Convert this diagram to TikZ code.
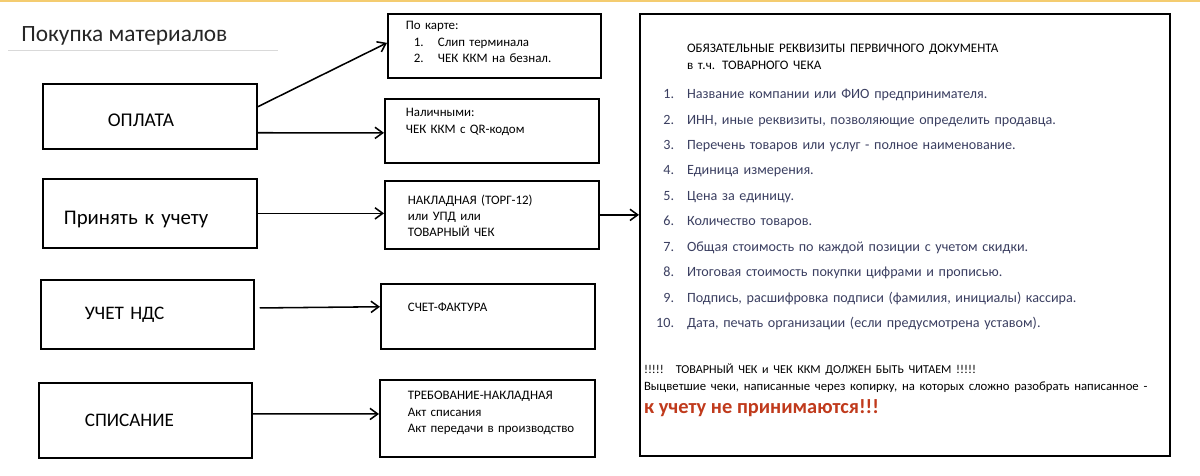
\documentclass[tikz,border=0pt]{standalone}
\usepackage{fontspec}
\setmainfont{Carlito}
\usetikzlibrary{arrows.meta,positioning}
\definecolor{listblue}{RGB}{58,62,96}
\definecolor{warnred}{RGB}{192,58,28}
\definecolor{topline}{RGB}{244,204,112}

\begin{document}
\begin{tikzpicture}[
		x=0.025cm, y=-0.025cm,
		box/.style={rectangle, draw=black, line width=1.2pt, inner ysep=0pt, align=left, anchor=north west},
		bigbox/.style={box, line width=1.5pt},
		arrow/.style={line width=1.1pt, -{Straight Barb[length=5.5pt,width=8pt]}}
		]
		
		\useasboundingbox (0,0) rectangle (1200,475);
		\fill [topline] (0,0) rectangle (1200,2);
		
		\node (title) at (21,41) [anchor=base west, text=black!85, font=\fontsize{16.6}{20}\selectfont, inner sep=0pt] {Покупка материалов};
		\draw [black!15, line width=0.6pt] (8,50) -- (278,50);
		
		\node (oplata) at (42,83) [box, inner xsep=1.625cm, text width=2.1cm, text height=1.075cm, text depth=0.55cm, font=\fontsize{13.8}{16}\selectfont] {ОПЛАТА};
		\node (prin) at (42,178) [box, inner xsep=0.525cm, text width=4.3cm, text height=1.15cm, text depth=0.575cm, font=\fontsize{14.8}{17}\selectfont] {Принять к учету};
		\node (uchet) at (40,279) [box, inner xsep=1.1cm, text width=3.125cm, text height=1.0cm, text depth=0.725cm, font=\fontsize{13.6}{16}\selectfont] {УЧЕТ НДС};
		\node (spis) at (38,382) [box, inner xsep=1.15cm, text width=3.025cm, text height=1.1cm, text depth=0.775cm, font=\fontsize{13.6}{16}\selectfont] {СПИСАНИЕ};
		
		\node (karta) at (387,13) [box, inner xsep=0.45cm, text width=4.425cm, text height=0.4cm, text depth=1.2cm, font=\fontsize{9.2}{11.5}\selectfont] {По карте:\\ \hspace*{0.2cm}\makebox[0.6cm][l]{1.}Слип терминала\\ \hspace*{0.2cm}\makebox[0.6cm][l]{2.}ЧЕК ККМ на безнал.};
		\node (nal) at (384,98) [box, inner xsep=0.525cm, text width=4.3cm, text height=0.45cm, text depth=1.15cm, font=\fontsize{9.2}{11.5}\selectfont] {Наличными:\\ ЧЕК ККМ с QR-кодом};
		\node (nakl) at (384,180) [box, inner xsep=0.575cm, text width=4.2cm, text height=0.6cm, text depth=1.1cm, font=\fontsize{9.2}{11.3}\selectfont] {НАКЛАДНАЯ (ТОРГ-12)\\ или УПД или\\ ТОВАРНЫЙ ЧЕК};
		\node (schet) at (380,283) [box, inner xsep=0.675cm, text width=4.0cm, text height=0.7cm, text depth=0.925cm, font=\fontsize{9.2}{11.3}\selectfont] {СЧЕТ-ФАКТУРА};
		\node (treb) at (379,379) [box, inner xsep=0.7cm, text width=3.975cm, text height=0.5cm, text depth=1.425cm, font=\fontsize{9.2}{11.5}\selectfont] {\mbox{ТРЕБОВАНИЕ-НАКЛАДНАЯ}\\ Акт списания\\ \mbox{Акт передачи в производство}};
		
		\node (rekv) at (639,13) [bigbox, inner xsep=0.1cm, text width=13.05cm, text height=0.95cm, text depth=10.1cm] {%
			{\fontsize{9.25}{12.1}\selectfont\hspace*{1.075cm}ОБЯЗАТЕЛЬНЫЕ РЕКВИЗИТЫ ПЕРВИЧНОГО ДОКУМЕНТА\\ \hspace*{1.075cm}в т.ч. ТОВАРНОГО ЧЕКА\par}
			\vspace{2.9pt}
			{\fontsize{10.05}{18.1}\selectfont\color{listblue}%
			\hspace*{0.3cm}\makebox[0.45cm][r]{1.}\hspace*{0.325cm}Название компании или ФИО предпринимателя.\\
			\hspace*{0.3cm}\makebox[0.45cm][r]{2.}\hspace*{0.325cm}ИНН, иные реквизиты, позволяющие определить продавца.\\
			\hspace*{0.3cm}\makebox[0.45cm][r]{3.}\hspace*{0.325cm}Перечень товаров или услуг - полное наименование.\\
			\hspace*{0.3cm}\makebox[0.45cm][r]{4.}\hspace*{0.325cm}Единица измерения.\\
			\hspace*{0.3cm}\makebox[0.45cm][r]{5.}\hspace*{0.325cm}Цена за единицу.\\
			\hspace*{0.3cm}\makebox[0.45cm][r]{6.}\hspace*{0.325cm}Количество товаров.\\
			\hspace*{0.3cm}\makebox[0.45cm][r]{7.}\hspace*{0.325cm}Общая стоимость по каждой позиции с учетом скидки.\\
			\hspace*{0.3cm}\makebox[0.45cm][r]{8.}\hspace*{0.325cm}Итоговая стоимость покупки цифрами и прописью.\\
			\hspace*{0.3cm}\makebox[0.45cm][r]{9.}\hspace*{0.325cm}Подпись, расшифровка подписи (фамилия, инициалы) кассира.\\
			\hspace*{0.3cm}\makebox[0.45cm][r]{10.}\hspace*{0.325cm}Дата, печать организации (если предусмотрена уставом).\par}
			\vspace{20.3pt}
			{\fontsize{8.6}{12.1}\selectfont !!!!!\hspace*{0.3cm}ТОВАРНЫЙ ЧЕК и ЧЕК ККМ ДОЛЖЕН БЫТЬ ЧИТАЕМ !!!!!\par}
			{\fontsize{9.05}{12.1}\selectfont Выцветшие чеки, написанные через копирку, на которых сложно разобрать написанное -\par}
			{\fontsize{14.5}{16.6}\selectfont\bfseries\color{warnred}к учету не принимаются!!!\par}};
		
		\draw [arrow] ([yshift=0.24cm]oplata.east) -- ([yshift=0.075cm]karta.west);
		\draw [arrow] ([yshift=-0.41cm]oplata.east) -- ([yshift=-0.05cm]nal.west);
		\draw [arrow] (prin.east) -- (prin.east -| nakl.west);
		\draw [arrow] (nakl.east) -- (nakl.east -| rekv.west);
		\draw [arrow] ([xshift=0.125cm, yshift=0.16cm]uchet.east) -- ([yshift=0.24cm]schet.west);
		\draw [arrow] ([yshift=0.16cm]spis.east) -- ([yshift=0.11cm]treb.west);
	\end{tikzpicture}
\end{document}
